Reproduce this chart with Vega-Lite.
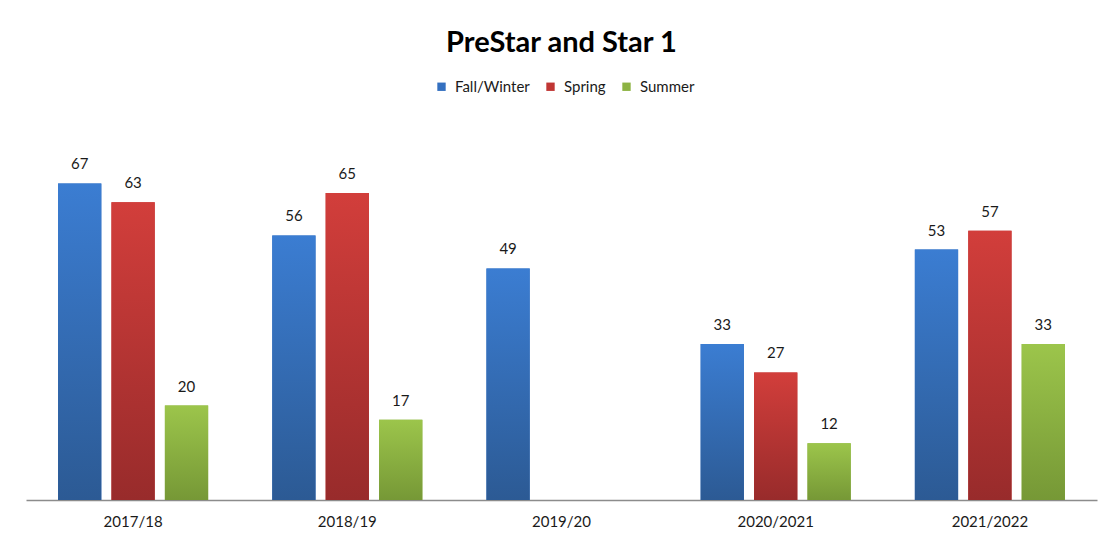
{
  "$schema": "https://vega.github.io/schema/vega-lite/v6.json",
  "width": 1071,
  "height": 378,
  "autosize": {"type": "none"},
  "padding": {"left": 26, "top": 122, "right": 8, "bottom": 40},
  "background": "white",
  "title": {
    "text": "PreStar and Star 1",
    "font": "Lato",
    "fontSize": 29,
    "fontWeight": "bold",
    "color": "#000000",
    "anchor": "middle",
    "offset": 21
  },
  "config": {
    "view": {"stroke": null},
    "font": "Lato"
  },
  "data": {
    "values": [
      {"year": "2017/18", "season": "Fall/Winter", "value": 67},
      {"year": "2017/18", "season": "Spring", "value": 63},
      {"year": "2017/18", "season": "Summer", "value": 20},
      {"year": "2018/19", "season": "Fall/Winter", "value": 56},
      {"year": "2018/19", "season": "Spring", "value": 65},
      {"year": "2018/19", "season": "Summer", "value": 17},
      {"year": "2019/20", "season": "Fall/Winter", "value": 49},
      {"year": "2020/2021", "season": "Fall/Winter", "value": 33},
      {"year": "2020/2021", "season": "Spring", "value": 27},
      {"year": "2020/2021", "season": "Summer", "value": 12},
      {"year": "2021/2022", "season": "Fall/Winter", "value": 53},
      {"year": "2021/2022", "season": "Spring", "value": 57},
      {"year": "2021/2022", "season": "Summer", "value": 33}
    ]
  },
  "encoding": {
    "x": {
      "field": "year",
      "type": "nominal",
      "sort": null,
      "scale": {"paddingInner": 0, "paddingOuter": 0},
      "axis": {
        "title": null,
        "labelAngle": 0,
        "labelFontSize": 15,
        "labelColor": "#1a1a1a",
        "labelPadding": 14,
        "ticks": false,
        "domainColor": "#8c8c8c",
        "domainWidth": 1.5
      }
    },
    "xOffset": {
      "field": "season",
      "type": "nominal",
      "scale": {"domain": ["Fall/Winter", "Spring", "Summer"], "paddingInner": 0.19, "paddingOuter": 0.6}
    },
    "y": {
      "field": "value",
      "type": "quantitative",
      "scale": {"domain": [0, 80]},
      "axis": null
    }
  },
  "layer": [
    {
      "mark": {"type": "bar"},
      "encoding": {
        "color": {
          "field": "season",
          "type": "nominal",
          "scale": {
            "domain": ["Fall/Winter", "Spring", "Summer"],
            "range": ["#3470C0", "#C03634", "#8DB343"]
          },
          "legend": {
            "title": null,
            "orient": "none",
            "direction": "horizontal",
            "legendX": 408,
            "legendY": -43,
            "symbolType": "square",
            "symbolSize": 70,
            "symbolStrokeWidth": 0,
            "labelFontSize": 15,
            "labelColor": "#1a1a1a",
            "columnPadding": 13,
            "labelOffset": 6
          }
        }
      }
    },
    {
      "transform": [{"filter": "datum.season === 'Fall/Winter'"}],
      "mark": {"type": "bar", "color": {"gradient": "linear", "x1": 0, "y1": 0, "x2": 0, "y2": 1, "stops": [{"offset": 0, "color": "#3B7DD2"}, {"offset": 1, "color": "#2C5A94"}]}}
    },
    {
      "transform": [{"filter": "datum.season === 'Spring'"}],
      "mark": {"type": "bar", "color": {"gradient": "linear", "x1": 0, "y1": 0, "x2": 0, "y2": 1, "stops": [{"offset": 0, "color": "#D23E3B"}, {"offset": 1, "color": "#982B2B"}]}}
    },
    {
      "transform": [{"filter": "datum.season === 'Summer'"}],
      "mark": {"type": "bar", "color": {"gradient": "linear", "x1": 0, "y1": 0, "x2": 0, "y2": 1, "stops": [{"offset": 0, "color": "#9CC54B"}, {"offset": 1, "color": "#769836"}]}}
    },
    {
      "mark": {"type": "text", "dy": -19, "fontSize": 15, "color": "#1a1a1a"},
      "encoding": {
        "text": {"field": "value", "type": "quantitative"}
      }
    }
  ]
}
